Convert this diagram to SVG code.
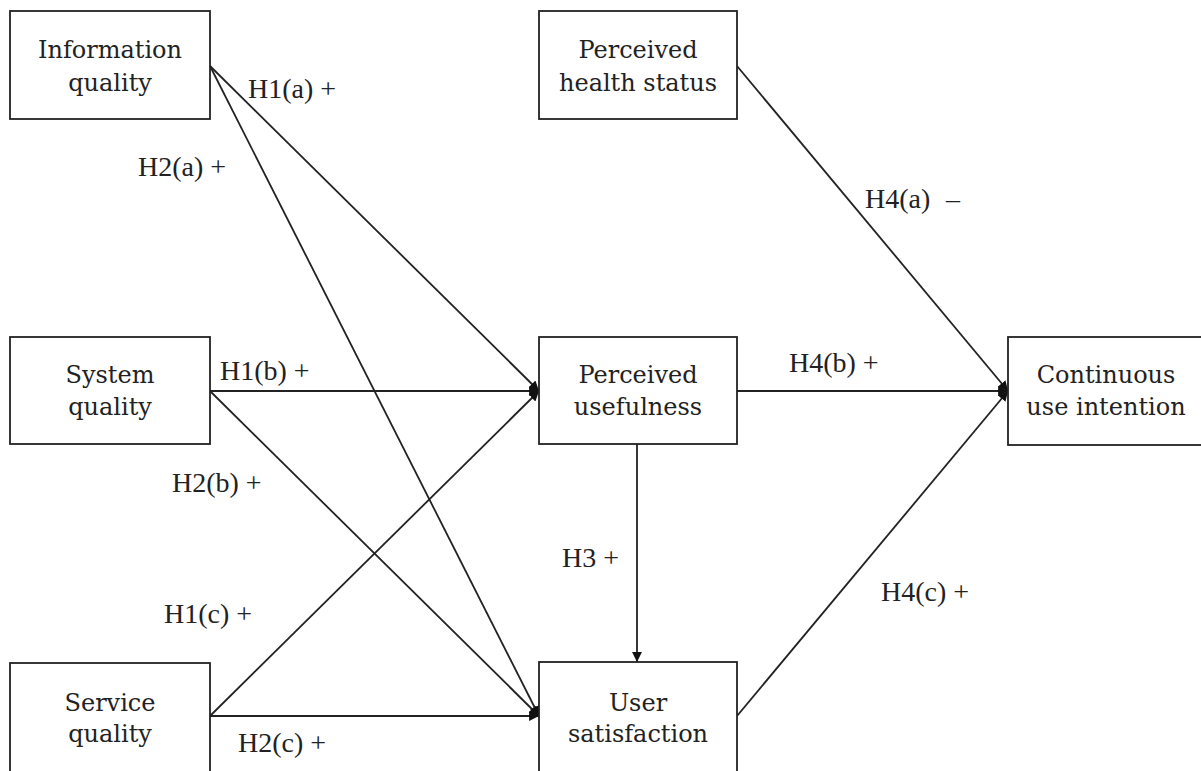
<svg xmlns="http://www.w3.org/2000/svg" width="1201" height="771" viewBox="0 0 1201 771">
<style>
.box{fill:#fff;stroke:#222;stroke-width:1.8}
.t{font-family:"DejaVu Serif","Liberation Serif",serif;font-size:24px;fill:#222;text-anchor:middle}
.lb{font-family:"Liberation Serif","DejaVu Serif",serif;font-size:28px;fill:#222}
.c{stroke:#222;stroke-width:1.8;fill:none;marker-end:url(#ah)}
</style>
<defs>
<marker id="ah" viewBox="0 0 10 10" refX="10" refY="5" markerWidth="5.5" markerHeight="5.5" orient="auto" markerUnits="strokeWidth">
<path d="M0,0 L10,5 L0,10 z" fill="#111"/>
</marker>
</defs>
<rect width="1201" height="771" fill="#fff"/>
<g id="connectors">
<line class="c" x1="210" y1="66" x2="539" y2="391"/>
<line class="c" x1="210" y1="66" x2="539" y2="716"/>
<line class="c" x1="210" y1="391" x2="539" y2="391"/>
<line class="c" x1="210" y1="391" x2="539" y2="716"/>
<line class="c" x1="210" y1="716" x2="539" y2="391"/>
<line class="c" x1="210" y1="716" x2="539" y2="716"/>
<line class="c" x1="637" y1="444" x2="637" y2="662"/>
<line class="c" x1="737" y1="66" x2="1008" y2="391"/>
<line class="c" x1="737" y1="391" x2="1008" y2="391"/>
<line class="c" x1="737" y1="716" x2="1008" y2="391"/>
</g>
<g id="labels">
<text class="lb" x="248" y="98">H1(a) +</text>
<text class="lb" x="138" y="176">H2(a) +</text>
<text class="lb" x="220" y="380">H1(b) +</text>
<text class="lb" x="172" y="492">H2(b) +</text>
<text class="lb" x="164" y="623">H1(c) +</text>
<text class="lb" x="238" y="752">H2(c) +</text>
<text class="lb" x="562" y="567">H3 +</text>
<text class="lb" x="865" y="208">H4(a) <tspan x="946">–</tspan></text>
<text class="lb" x="789" y="372">H4(b) +</text>
<text class="lb" x="881" y="601">H4(c) +</text>
</g>
<g id="n-info"><rect class="box" x="10" y="11" width="200" height="108"/><text class="t" x="110" y="58">Information</text><text class="t" x="110" y="91">quality</text></g>
<g id="n-system"><rect class="box" x="10" y="337" width="200" height="107"/><text class="t" x="110" y="383">System</text><text class="t" x="110" y="415">quality</text></g>
<g id="n-service"><rect class="box" x="10" y="663" width="200" height="110"/><text class="t" x="110" y="711">Service</text><text class="t" x="110" y="742">quality</text></g>
<g id="n-health"><rect class="box" x="539" y="11" width="198" height="108"/><text class="t" x="638" y="58">Perceived</text><text class="t" x="638" y="91">health status</text></g>
<g id="n-pu"><rect class="box" x="539" y="337" width="198" height="107"/><text class="t" x="638" y="383">Perceived</text><text class="t" x="638" y="415">usefulness</text></g>
<g id="n-us"><rect class="box" x="539" y="662" width="198" height="111"/><text class="t" x="638" y="711">User</text><text class="t" x="638" y="742">satisfaction</text></g>
<g id="n-cu"><rect class="box" x="1008" y="337" width="200" height="108"/><text class="t" x="1106" y="383">Continuous</text><text class="t" x="1106" y="415">use intention</text></g>
</svg>
